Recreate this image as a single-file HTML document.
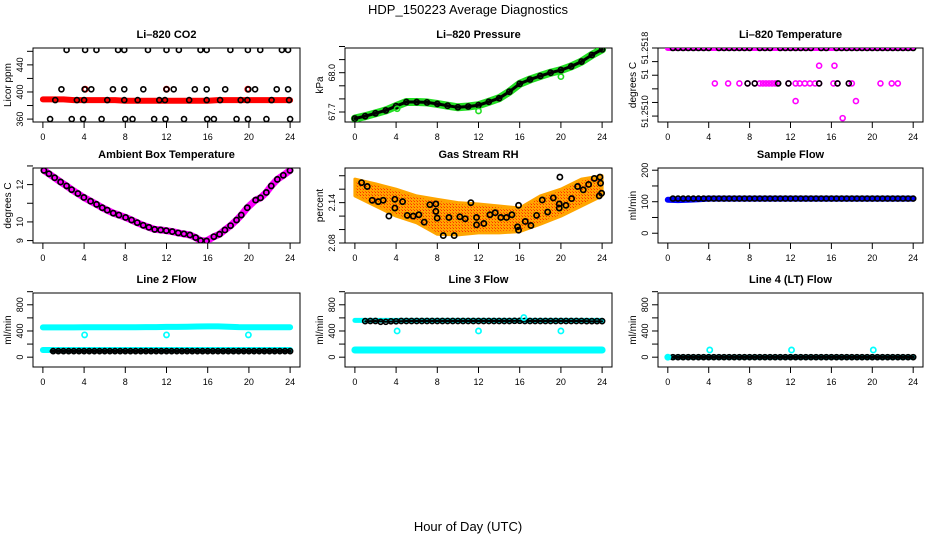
<!DOCTYPE html>
<html><head><meta charset="utf-8">
<style>
html,body{margin:0;padding:0;background:#fff;}
svg{display:block;font-family:"Liberation Sans",sans-serif;}
</style></head>
<body>
<svg id="fig" width="936" height="540" viewBox="0 0 936 540">
<defs>
<pattern id="rhpat" width="3" height="3" patternUnits="userSpaceOnUse">
<rect width="3" height="3" fill="#ffa500"/><rect x="0" y="0" width="1" height="1" fill="#ff2a00"/><rect x="2" y="2" width="1" height="1" fill="#ff5a00"/>
</pattern>
</defs>
<text x="468" y="14" text-anchor="middle" font-size="13">HDP_150223  Average Diagnostics</text>
<text x="468" y="531" text-anchor="middle" font-size="13">Hour of Day (UTC)</text>
</svg>
<script>
// ---------- shared data ----------
const xTicks = [0,4,8,12,16,20,24];
const halfHours = [0.5,1,1.5,2,2.5,3,3.5,4,4.5,5,5.5,6,6.5,7,7.5,8,8.5,9,9.5,10,10.5,11,11.5,12,12.5,13,13.5,14,14.5,15,15.5,16,16.5,17,17.5,18,18.5,19,19.5,20,20.5,21,21.5,22,22.5,23,23.5,24];
const hourly = [0,1,2,3,4,5,6,7,8,9,10,11,12,13,14,15,16,17,18,19,20,21,22,23,24];

// CO2
const co2RedBand = [389,389,389,388,388,388,388,388,387,387,387,387,387,387,387,387,387,388,388,388,388,388,388,388,388];
const co2RedSpikeHours = [4.1,12.0,19.9];
const co2RedSpikeVals = [404,404,404];
const co2HighHours = [2.3,4.1,5.2,7.3,7.9,10.2,12.0,13.2,15.3,15.9,18.2,19.9,21.1,23.2,23.8];
const co2MidHours = [1.8,4.05,4.7,6.8,7.9,9.75,12.0,12.7,14.75,15.9,17.7,19.95,20.6,22.7,23.8];
const co2LowHours = [0.7,2.8,3.9,5.7,8.0,8.7,10.8,11.9,13.7,15.95,16.6,18.8,19.9,21.7,24.0];
const co2BandHours = [1.2,3.3,4.0,6.25,7.9,9.2,11.3,11.85,14.2,15.9,17.2,19.2,19.85,22.2,23.9];
const co2Levels = [462,404,360,388];
const co2Ticks = [360,380,400,420,440,460];
const co2TickLabels = ["360","","400","","440",""];

// Pressure
const presVals = [67.650,67.668,67.690,67.712,67.745,67.776,67.776,67.773,67.762,67.748,67.736,67.742,67.752,67.778,67.805,67.855,67.915,67.948,67.975,68.000,68.020,68.048,68.085,68.135,68.178];
const presGreenOutHours = [4.1,12.0,20.0];
const presGreenOutVals = [67.725,67.708,67.97];
const presTicks = [67.7,67.8,67.9,68.0,68.1,68.2];
const presTickLabels = ["67.7","","","68.0","",""];

// Li-820 temperature
const tempTop = 51.2518;
const tempTopBlackHours = [0.5,1,1.5,2,2.5,3,3.5,4,5,5.5,6,6.5,7,7.5,8,9,9.5,10,11,11.5,12,12.5,13,13.5,14,15,15.5,16.5,17,17.5,18,18.5,19,19.5,20,20.5,21,21.5,22,22.5,23,23.5,24];
const tempMidHours = [4.6,5.9,7.0,7.8,8.5,9.0,9.3,9.6,9.9,10.2,10.5,10.7,11.8,12.5,12.9,13.4,13.9,14.4,14.8,16.2,16.6,17.7,18.0,20.8,21.9,22.5];
const tempMidVal = 51.25128;
const tempMidBlackHours = [7.8,8.5,10.8,11.8,14.8,16.6,17.7];
const tempOtherHours = [14.8,16.3,12.5,18.4,17.1];
const tempOtherVals = [51.25154,51.25154,51.25102,51.25102,51.25077];
const tempTicks = [51.2518,51.2516,51.2514,51.2512,51.2510,51.2508];
const tempTickLabels = ["51.2518","","51","","51.2510",""];
const tempLabelShift = [0,0,-1,0,9,0];

// Ambient box temperature
const ambHours = [0.10,0.59,1.14,1.72,2.30,2.79,3.40,3.98,4.63,5.21,5.76,6.25,6.83,7.38,8.03,8.61,9.16,9.74,10.29,10.85,11.43,11.98,12.56,13.14,13.69,14.27,14.83,15.31,15.89,16.60,17.15,17.67,18.22,18.80,19.26,19.84,20.65,21.13,21.69,22.17,22.76,23.34,23.99];
const ambVals = [12.76,12.58,12.37,12.14,11.93,11.73,11.52,11.31,11.11,10.94,10.76,10.63,10.47,10.37,10.24,10.10,9.96,9.82,9.71,9.60,9.57,9.53,9.48,9.41,9.36,9.30,9.16,9.00,8.98,9.21,9.34,9.57,9.80,10.10,10.37,10.76,11.17,11.29,11.58,11.93,12.28,12.50,12.76];
const ambTicks = [9,10,11,12,13];
const ambTickLabels = ["9","10","","12",""];

// Gas stream RH
const rhBandHours = [0,2,4,6,8,10,12,14,16,18,20,22,24];
const rhUpper = [2.175,2.168,2.160,2.150,2.145,2.140,2.138,2.135,2.132,2.150,2.160,2.175,2.180];
const rhLower = [2.150,2.135,2.120,2.110,2.093,2.092,2.095,2.095,2.097,2.108,2.120,2.135,2.150];
const rhHours = [0.65,1.20,1.68,2.27,2.75,3.30,3.88,3.88,4.63,5.08,5.66,6.21,6.73,7.28,7.86,7.86,7.99,8.58,9.13,9.64,10.19,10.71,11.26,11.81,11.81,12.52,13.11,13.62,14.17,14.72,15.24,15.79,15.89,15.89,16.54,17.09,17.64,18.19,18.71,19.26,19.84,19.84,19.90,20.49,21.04,21.62,22.17,22.69,23.24,23.79,23.85,23.72,23.95];
const rhVals = [2.1697,2.164,2.1435,2.1415,2.1435,2.120,2.145,2.132,2.1415,2.121,2.120,2.122,2.111,2.137,2.138,2.127,2.117,2.091,2.118,2.091,2.119,2.116,2.140,2.118,2.107,2.109,2.122,2.125,2.118,2.118,2.122,2.104,2.099,2.136,2.112,2.106,2.121,2.144,2.126,2.147,2.138,2.132,2.178,2.136,2.146,2.164,2.159,2.167,2.176,2.178,2.169,2.150,2.154];
const rhTicks = [2.08,2.10,2.12,2.14,2.16,2.18];
const rhTickLabels = ["2.08","","","2.14","",""];

// Sample flow
const sampBlue = [106,105,106,108,110,110,110,110,110,110,110,110,110,110,110,110,110,110,110,110,110,110,110,110,110];
const sampBlack = 110;
const sampTicks = [0,50,100,150,200];
const sampTickLabels = ["0","","100","","200"];

// Line flows
const flowTicks = [0,200,400,600,800,1000];
const flowTickLabels = ["0","","400","","800",""];
const l2CyanHigh = [455,455,455,455,458,458,458,458,458,458,460,460,462,462,465,468,470,470,465,460,458,458,458,458,458];
const l2CyanLow = 110;
const l2Black = 92;
const l2OutHours = [4.05,12.0,19.95];
const l2OutVals = [340,340,340];
const l3Black = [550,550,552,540,548,552,552,552,552,552,552,552,552,552,552,552,555,552,552,552,552,552,552,550,550];
const l3CyanHigh = 562;
const l3CyanLow = 110;
const l3OutHours = [4.1,12.0,20.0,16.4];
const l3OutVals = [400,400,400,605];
const l4Black = 0;
const l4OutHours = [0,4.1,12.1,20.1];
const l4OutVals = [0,110,110,110];

// ---------- drawing ----------
const svg = document.getElementById('fig');
const NS = 'http://www.w3.org/2000/svg';
function mk(tag, attrs, parent){
  const e = document.createElementNS(NS, tag);
  for (const k in attrs) e.setAttribute(k, attrs[k]);
  (parent||svg).appendChild(e);
  return e;
}
function panel(name, title, ylab, l, t, r, b, vmin, vmax, ticks, labels, shifts){
  const g = mk('g', {});
  
  
  const w = r - l;
  const x0 = l + w*0.96/25.92, pxh = w/25.92;
  const X = h => x0 + h*pxh;
  const Y = v => b - (v - vmin)/(vmax - vmin)*(b - t);
  const tt = mk('text', {x:(l+r)/2, y:t-10, 'text-anchor':'middle', 'font-size':11, 'font-weight':'bold'}, g);
  tt.textContent = title;
  
  
  const box = mk('rect', {x:l, y:t, width:w, height:b-t, fill:'none', stroke:'#000', 'stroke-width':1}, g);
  
  
  xTicks.forEach(h => {
    mk('line', {x1:X(h), x2:X(h), y1:b, y2:b+6, stroke:'#000'}, g);
    const tx = mk('text', {x:X(h), y:b+18, 'text-anchor':'middle', 'font-size':9}, g);
    tx.textContent = h;
    
    
  });
  ticks.forEach((v,i) => {
    const y = Y(v);
    mk('line', {x1:l-6, x2:l, y1:y, y2:y, stroke:'#000'}, g);
    if (labels[i]) {
      const ly = y + (shifts ? shifts[i] : 0);
      const ty = mk('text', {x:0, y:0, 'text-anchor':'middle', 'font-size':9, transform:`translate(${l-10},${ly}) rotate(-90)`}, g);
      ty.textContent = labels[i];
      
      
    }
  });
  const yl = mk('text', {x:0, y:0, 'text-anchor':'middle', 'font-size':10, transform:`translate(${l-22},${(t+b)/2}) rotate(-90)`}, g);
  yl.textContent = ylab;
  
  
  const clip = 'clip-' + name;
  const cp = mk('clipPath', {id:clip}, g);
  mk('rect', {x:l, y:t, width:w, height:b-t}, cp);
  const data = mk('g', {'clip-path':`url(#${clip})`}, g);
  return {X, Y, g:data, name};
}
function pts(p, hours, vals, color, r, sw, label){
  const gg = mk('g', {}, p.g);
  
  
  hours.forEach((h,i) => {
    const v = Array.isArray(vals) ? vals[i] : vals;
    mk('circle', {cx:p.X(h), cy:p.Y(v), r:r, fill:'none', stroke:color, 'stroke-width':sw}, gg);
  });
}
function band(p, hours, vals, color, sw, label){
  const d = hours.map((h,i) => (i?'L':'M') + p.X(h).toFixed(1) + ',' + p.Y(Array.isArray(vals)?vals[i]:vals).toFixed(1)).join('');
  const e = mk('path', {d, fill:'none', stroke:color, 'stroke-width':sw, 'stroke-linejoin':'round', 'stroke-linecap':'round'}, p.g);
  
  
}

const C = [[33,300],[345,612],[658,923]];
const R = [[48,122],[168,243],[293,367]];

// CO2
let p = panel('co2', 'Li\u2013820 CO2', 'Licor ppm', C[0][0], R[0][0], C[0][1], R[0][1], 355.7, 464.9, co2Ticks, co2TickLabels);
band(p, hourly, co2RedBand, '#ff0000', 6, 'red-band');
pts(p, co2RedSpikeHours, co2RedSpikeVals, '#ff0000', 2.5, 2, 'red-spikes');
pts(p, co2HighHours, co2Levels[0], '#000', 2.5, 1.6, 'black-high');
pts(p, co2MidHours, co2Levels[1], '#000', 2.5, 1.6, 'black-mid');
pts(p, co2LowHours, co2Levels[2], '#000', 2.5, 1.6, 'black-low');
pts(p, co2BandHours, co2Levels[3], '#000', 2.5, 1.6, 'black-band');

// Pressure
p = panel('pressure', 'Li\u2013820 Pressure', 'kPa', C[1][0], R[0][0], C[1][1], R[0][1], 67.6236, 68.1886, presTicks, presTickLabels);
band(p, hourly, presVals, '#22dd22', 8, 'green-band');
band(p, hourly, presVals, '#000', 3, 'black-line');
pts(p, hourly, presVals, '#000', 2.6, 1.6, 'black-points');
pts(p, presGreenOutHours, presGreenOutVals, '#22dd22', 2.6, 1.6, 'green-outliers');

// Li-820 temperature
const tMin = 51.2518 - (122-47.7)/13.67*0.0002;
p = panel('li820-temp', 'Li\u2013820 Temperature', 'degrees C', C[2][0], R[0][0], C[2][1], R[0][1], tMin, 51.2518, tempTicks, tempTickLabels, tempLabelShift);
band(p, [0,24], tempTop, '#ff00ff', 6, 'magenta-band');
pts(p, tempTopBlackHours, tempTop, '#000', 2.5, 1.6, 'black-top');
pts(p, tempMidHours, tempMidVal, '#ff00ff', 2.5, 1.6, 'magenta-mid');
pts(p, tempMidBlackHours, tempMidVal, '#000', 2.5, 1.6, 'black-mid');
pts(p, tempOtherHours, tempOtherVals, '#ff00ff', 2.5, 1.6, 'magenta-outliers');

// Ambient box temperature
p = panel('ambient-temp', 'Ambient Box Temperature', 'degrees C', C[0][0], R[1][0], C[0][1], R[1][1], 8.87, 12.89, ambTicks, ambTickLabels);
band(p, ambHours, ambVals, '#ff00ff', 7, 'magenta-band');
pts(p, ambHours, ambVals, '#000', 2.6, 1.7, 'black-points');

// Gas stream RH
p = panel('gas-rh', 'Gas Stream RH', 'percent', C[1][0], R[1][0], C[1][1], R[1][1], 2.08, 2.1915, rhTicks, rhTickLabels);
{
  const up = rhBandHours.map((h,i) => p.X(h).toFixed(1) + ',' + p.Y(rhUpper[i]).toFixed(1));
  const lo = rhBandHours.map((h,i) => p.X(h).toFixed(1) + ',' + p.Y(rhLower[i]).toFixed(1)).reverse();
  const poly = mk('polygon', {points:up.concat(lo).join(' '), fill:'url(#rhpat)', stroke:'#ffa500', 'stroke-width':3, 'stroke-linejoin':'round'}, p.g);
  
  
}
pts(p, rhHours, rhVals, '#000', 2.6, 1.7, 'black-points');

// Sample flow
p = panel('sample-flow', 'Sample Flow', 'ml/min', C[2][0], R[1][0], C[2][1], R[1][1], -31, 207, sampTicks, sampTickLabels);
band(p, hourly, sampBlue, '#0000ff', 6, 'blue-band');
pts(p, halfHours, sampBlack, '#000', 2.5, 1.7, 'black-points');

// Line 2 flow
p = panel('line2-flow', 'Line 2 Flow', 'ml/min', C[0][0], R[2][0], C[0][1], R[2][1], -150, 980, flowTicks, flowTickLabels);
band(p, hourly, l2CyanHigh, '#00ffff', 6, 'cyan-high-band');
band(p, [0,24], l2CyanLow, '#00ffff', 6, 'cyan-low-band');
band(p, [0.8,24], l2Black, '#000', 3, 'black-line');
pts(p, halfHours.slice(1), l2Black, '#000', 2.5, 1.7, 'black-points');
pts(p, l2OutHours, l2OutVals, '#00ffff', 2.6, 1.7, 'cyan-outliers');

// Line 3 flow
p = panel('line3-flow', 'Line 3 Flow', 'ml/min', C[1][0], R[2][0], C[1][1], R[2][1], -150, 980, flowTicks, flowTickLabels);
band(p, [0,24], l3CyanLow, '#00ffff', 7, 'cyan-low-band');
band(p, [0,24], l3CyanHigh, '#00ffff', 5, 'cyan-high-band');
band(p, hourly.slice(1), l3Black.slice(1), '#000', 2, 'black-line');
pts(p, hourly.slice(1).concat(halfHours.filter((h,i)=>i%2===0).slice(1)), hourly.slice(1).map((h,i)=>l3Black[i+1]).concat(halfHours.filter((h,i)=>i%2===0).slice(1).map(h=>l3Black[Math.round(h)])), '#000', 2.5, 1.7, 'black-points');
pts(p, l3OutHours, l3OutVals, '#00ffff', 2.6, 1.7, 'cyan-outliers');

// Line 4 flow
p = panel('line4-flow', 'Line 4 (LT) Flow', 'ml/min', C[2][0], R[2][0], C[2][1], R[2][1], -150, 980, flowTicks, flowTickLabels);
band(p, [0,24], l4Black, '#00ffff', 5, 'cyan-band');
band(p, [0.5,24], l4Black, '#000', 3, 'black-line');
pts(p, halfHours, l4Black, '#000', 2.5, 1.7, 'black-points');
pts(p, l4OutHours, l4OutVals, '#00ffff', 2.6, 1.7, 'cyan-outliers');
</script>
</body></html>
